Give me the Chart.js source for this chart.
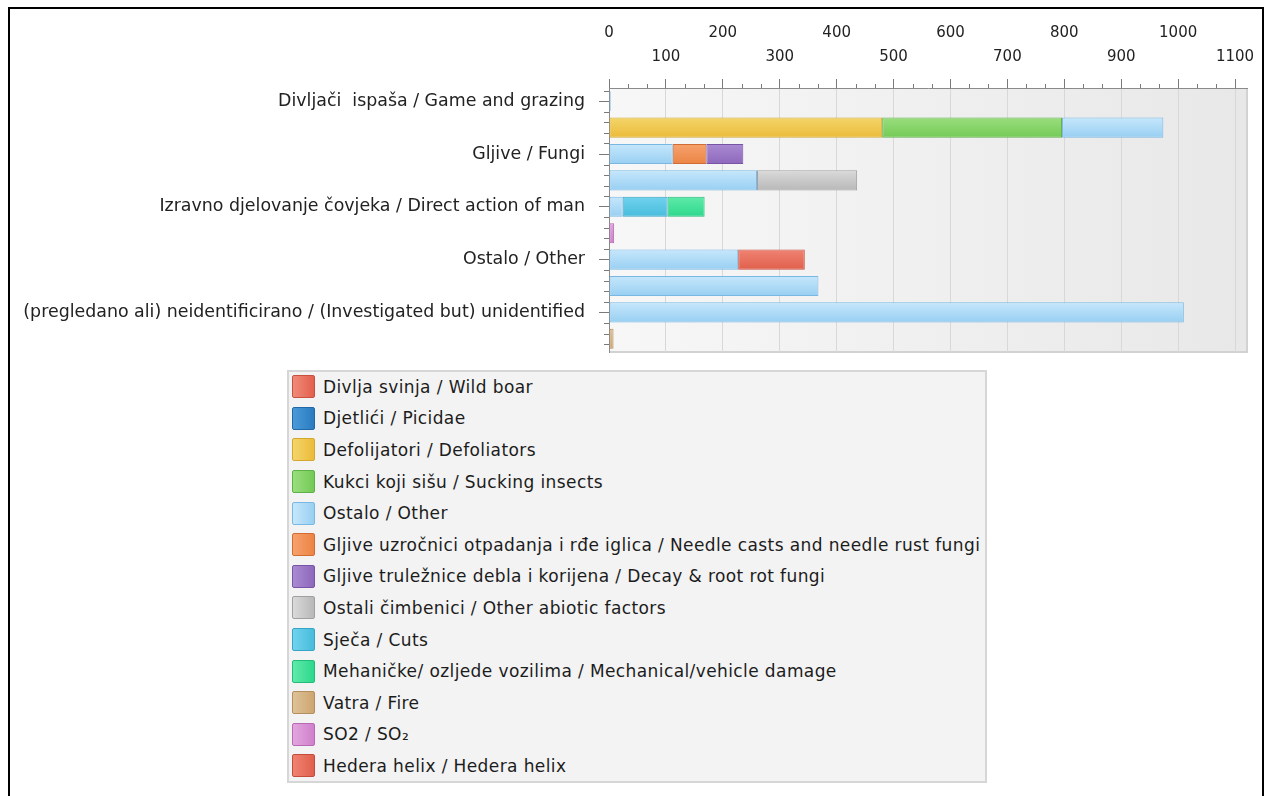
<!DOCTYPE html>
<html>
<head>
<meta charset="utf-8">
<script src="https://cdn.jsdelivr.net/npm/chart.js@4.4.1/dist/chart.umd.min.js"></script>
<style>
  body { margin: 0; background: #fff; }
  #frame { position: absolute; left: 8px; top: 7px; width: 1252px; height: 830px; border: 2px solid #000; border-bottom: none; }
  #chart { position: absolute; left: 0; top: 0; }
  #legend { position: absolute; left: 287px; top: 370px; width: 700px; height: 413px; box-sizing: border-box;
            border: 2px solid #d6d6d6; background: #f3f3f3;
            font-family: "DejaVu Sans", sans-serif; font-size: 17px; letter-spacing: 0.4px; color: #1c1c1c; }
  #legend .rows { margin-top: -1px; }
  .item { display: flex; align-items: center; height: 31.6px; white-space: nowrap; }
  .sw { flex: none; width: 21px; height: 21px; margin-left: 3px; margin-right: 8px; border: 1px solid; border-radius: 2px; }
</style>
</head>
<body>
<div id="frame"></div>
<canvas id="chart" width="1270" height="365"></canvas>
<div id="legend"><div class="rows" id="rows"></div></div>
<script>
// categories (only every second one gets a label on the axis)
var categories = [
    'Divljači  ispaša / Game and grazing',
    'Kukci / Insects',
    'Gljive / Fungi',
    'Abiotski čimbenici / Abiotic agents',
    'Izravno djelovanje čovjeka / Direct action of man',
    'Onečišćenje zraka / Air pollutants',
    'Ostalo / Other',
    'Nije istraženo / Not investigated',
    '(pregledano ali) neidentificirano / (Investigated but) unidentified',
    'Vatra / Fire'
];

// series, one value per category
var divljaSvinja    = [0, 0, 0, 0, 0, 0, 0, 0, 0, 0];
var djetlici        = [0, 0, 0, 0, 0, 0, 0, 0, 0, 0];
var defolijatori    = [0, 480, 0, 0, 0, 0, 0, 0, 0, 0];
var kukciKojiSisu   = [0, 316, 0, 0, 0, 0, 0, 0, 0, 0];
var ostalo          = [3, 178, 112, 260, 24, 0, 227, 368, 1010, 0];
var gljiveIglica    = [0, 0, 59, 0, 0, 0, 0, 0, 0, 0];
var gljiveTrulez    = [0, 0, 65, 0, 0, 0, 0, 0, 0, 0];
var ostaliCimbenici = [0, 0, 0, 176, 0, 0, 0, 0, 0, 0];
var sjeca           = [0, 0, 0, 0, 79, 0, 0, 0, 0, 0];
var mehanicke       = [0, 0, 0, 0, 65, 0, 0, 0, 0, 0];
var vatra           = [0, 0, 0, 0, 0, 0, 0, 0, 0, 8];
var so2             = [0, 0, 0, 0, 0, 9, 0, 0, 0, 0];
var hedera          = [0, 0, 0, 0, 0, 0, 117, 0, 0, 0];

var seriesNames = [
    'Divlja svinja / Wild boar',
    'Djetlići / Picidae',
    'Defolijatori / Defoliators',
    'Kukci koji sišu / Sucking insects',
    'Ostalo / Other',
    'Gljive uzročnici otpadanja i rđe iglica / Needle casts and needle rust fungi',
    'Gljive truležnice debla i korijena / Decay & root rot fungi',
    'Ostali čimbenici / Other abiotic factors',
    'Sječa / Cuts',
    'Mehaničke/ ozljede vozilima / Mechanical/vehicle damage',
    'Vatra / Fire',
    'SO2 / SO₂',
    'Hedera helix / Hedera helix'
];
var seriesValues = [divljaSvinja, djetlici, defolijatori, kukciKojiSisu, ostalo, gljiveIglica,
    gljiveTrulez, ostaliCimbenici, sjeca, mehanicke, vatra, so2, hedera];

// [light, base, border]
var seriesColors = [
    ['#f08a7a', '#e2604c', '#c85040'],
    ['#4a9ad8', '#2a7cc0', '#2068a8'],
    ['#f4d56a', '#ebbb3a', '#d4a830'],
    ['#9ade7e', '#74ca56', '#5eb048'],
    ['#c6e7fc', '#98cff2', '#7ab8e4'],
    ['#f6a26e', '#ec8444', '#d06c34'],
    ['#aa8ad2', '#8e68bc', '#7854a4'],
    ['#dadada', '#b8b8b8', '#a0a0a0'],
    ['#70d2ee', '#48bcdc', '#38a4c4'],
    ['#60eaaa', '#2cd88c', '#20bc78'],
    ['#dec298', '#cca670', '#b48e5c'],
    ['#e2a6de', '#d080cc', '#b868b4'],
    ['#f08272', '#e0604c', '#c44c3c']
];

function barFill(col) {
    return function (c) {
        var chart = c.chart, ys = chart.scales.y;
        if (!chart.chartArea || !ys || c.type !== 'data') return col[1];
        var yc = ys.getPixelForValue(c.dataIndex);
        var h = ys.height / categories.length * 0.76 / 2;
        var g = chart.ctx.createLinearGradient(0, yc - h, 0, yc + h);
        g.addColorStop(0, col[0]);
        g.addColorStop(1, col[1]);
        return g;
    };
}

var datasets = seriesNames.map(function (name, i) {
    return {
        label: name,
        data: seriesValues[i],
        backgroundColor: barFill(seriesColors[i]),
        borderColor: seriesColors[i][2],
        borderWidth: 1,
        borderSkipped: false
    };
});

// plot background + right/bottom frame
var plotBg = {
    id: 'plotBg',
    beforeDraw: function (chart) {
        var a = chart.chartArea, ctx = chart.ctx;
        ctx.save();
        var g = ctx.createLinearGradient(a.left, 0, a.right, 0);
        g.addColorStop(0, '#f7f7f7');
        g.addColorStop(1, '#e8e8e8');
        ctx.fillStyle = g;
        ctx.fillRect(a.left, a.top, a.right - a.left, a.bottom - a.top);
        ctx.strokeStyle = '#d2d2d2';
        ctx.lineWidth = 2;
        ctx.beginPath();
        ctx.moveTo(a.right, a.top);
        ctx.lineTo(a.right, a.bottom);
        ctx.lineTo(a.left, a.bottom);
        ctx.stroke();
        ctx.restore();
    }
};

// small ticks between the big ones
var minorTicks = {
    id: 'minorTicks',
    afterDraw: function (chart) {
        var a = chart.chartArea, ctx = chart.ctx, xs = chart.scales.x, ys = chart.scales.y;
        ctx.save();
        ctx.strokeStyle = '#7a7a7a';
        ctx.lineWidth = 1;
        ctx.beginPath();
        for (var k = 1; k * 100 / 3 <= 1100; k++) {
            if (k % 3 === 0) continue;
            var x = Math.round(xs.getPixelForValue(k * 100 / 3)) + 0.5;
            ctx.moveTo(x, a.top);
            ctx.lineTo(x, a.top - 4);
        }
        for (var j = -1; j * 0.4 <= categories.length - 0.5; j++) {
            if (j % 5 === 0) continue;
            var y = Math.round(ys.getPixelForValue(j * 0.4)) + 0.5;
            ctx.moveTo(a.left, y);
            ctx.lineTo(a.left - 5, y);
        }
        ctx.stroke();
        ctx.restore();
    }
};

var myChart = new Chart(document.getElementById('chart'), {
    type: 'bar',
    data: { labels: categories, datasets: datasets },
    plugins: [plotBg, minorTicks],
    options: {
        responsive: false,
        animation: false,
        indexAxis: 'y',
        categoryPercentage: 1,
        barPercentage: 0.76,
        layout: { padding: { left: 0, top: 0, right: 23, bottom: 13 } },
        plugins: {
            legend: { display: false },
            tooltip: { enabled: false }
        },
        scales: {
            x: {
                position: 'top',
                stacked: true,
                min: 0,
                max: 1121,
                afterFit: function (s) { s.height = 88; s.paddingLeft = 0; s.paddingRight = 0; },
                border: { color: '#8a8a8a' },
                grid: { color: '#d8d8d8', tickLength: 9, tickColor: '#7a7a7a' },
                ticks: {
                    stepSize: 100,
                    includeBounds: false,
                    autoSkip: false,
                    maxRotation: 0,
                    padding: 10,
                    color: '#222',
                    font: { family: 'DejaVu Sans', size: 15, lineHeight: 1.6 },
                    callback: function (v) {
                        return (v / 100) % 2 === 0 ? [String(v), ''] : ['', String(v)];
                    }
                }
            },
            y: {
                stacked: true,
                offset: true,
                afterFit: function (s) { s.width = 609; s.paddingTop = 0; s.paddingBottom = 0; },
                border: { color: '#8a8a8a' },
                grid: {
                    offset: false,
                    drawOnChartArea: false,
                    tickLength: 10,
                    tickColor: function (c) { return c.index % 2 === 0 ? '#7a7a7a' : 'transparent'; }
                },
                ticks: {
                    autoSkip: false,
                    padding: 14,
                    color: '#222',
                    font: { family: 'DejaVu Sans', size: 17.4 },
                    callback: function (v, i) { return i % 2 === 0 ? categories[i] : ''; }
                }
            }
        }
    }
});

// legend below the chart, one entry per line
var legendRows = document.getElementById('rows');
myChart.data.datasets.forEach(function (ds, i) {
    var col = seriesColors[i];
    var row = document.createElement('div');
    row.className = 'item';
    var sw = document.createElement('span');
    sw.className = 'sw';
    sw.style.background = 'linear-gradient(to right, ' + col[0] + ', ' + col[1] + ')';
    sw.style.borderColor = col[2];
    var txt = document.createElement('span');
    txt.textContent = ds.label;
    row.appendChild(sw);
    row.appendChild(txt);
    legendRows.appendChild(row);
});
</script>
</body>
</html>
